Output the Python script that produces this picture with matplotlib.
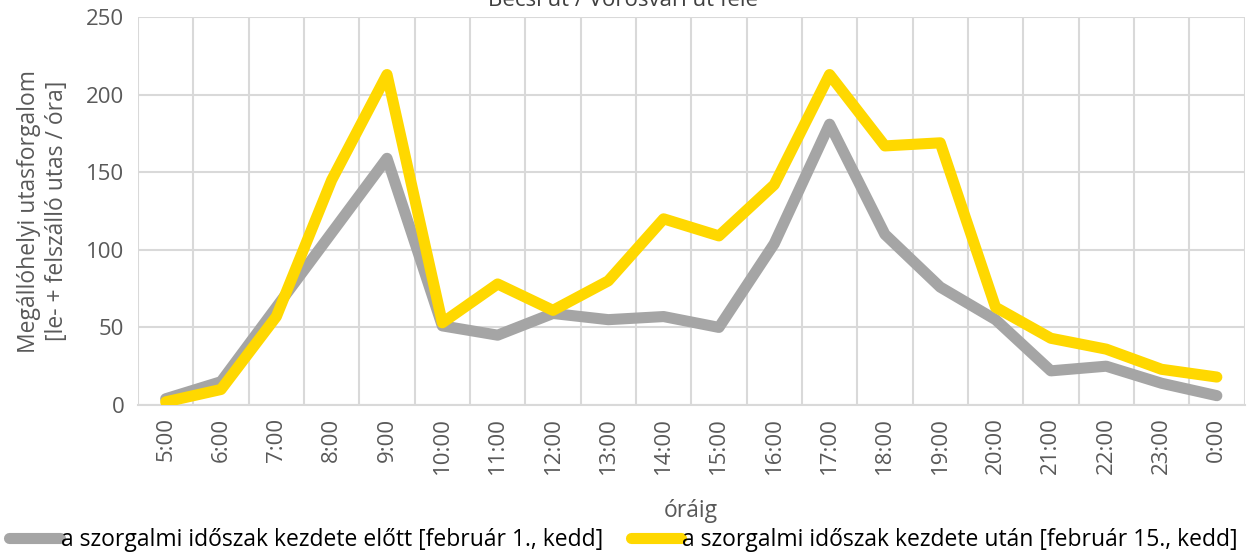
import matplotlib.pyplot as plt

plt.rcParams['font.family'] = ['Open Sans', 'DejaVu Sans']

hours = ["5:00", "6:00", "7:00", "8:00", "9:00", "10:00", "11:00", "12:00", "13:00", "14:00",
         "15:00", "16:00", "17:00", "18:00", "19:00", "20:00", "21:00", "22:00", "23:00", "0:00"]
before = [4, 15, 63, 111, 159, 51, 45, 59, 55, 57, 50, 104, 181, 110, 76, 55, 22, 25, 14, 6]
after = [2, 10, 57, 145, 213, 53, 78, 61, 80, 120, 109, 142, 213, 167, 169, 63, 43, 36, 23, 18]

label_before = "a szorgalmi időszak kezdete előtt [február 1., kedd]"
label_after = "a szorgalmi időszak kezdete után [február 15., kedd]"

GREY = "#A5A5A5"
GOLD = "#FFD800"
TXT = "#595959"

fig = plt.figure(figsize=(12.47, 5.54), dpi=100)
ax = fig.add_axes([0.1107, 0.269, 0.8873, 0.70])

x = list(range(len(hours)))
ax.plot(x, before, color=GREY, lw=8, solid_joinstyle='round', solid_capstyle='round', label=label_before, zorder=3)
ax.plot(x, after, color=GOLD, lw=8, solid_joinstyle='round', solid_capstyle='round', label=label_after, zorder=4)

ax.set_xlim(-0.5, len(hours) - 0.5)
ax.set_ylim(0, 250)
ax.set_yticks(range(0, 251, 50))
ax.set_xticks(x)
ax.set_xticklabels(hours, rotation=90)
ax.set_xticks([i - 0.5 for i in range(len(hours) + 1)], minor=True)
ax.grid(False)
ax.grid(True, which='minor', axis='x', color='#D9D9D9', lw=1.5)
ax.grid(True, which='major', axis='y', color='#D9D9D9', lw=1.5)
ax.set_axisbelow(True)
ax.tick_params(axis='both', which='both', length=0, labelsize=16, colors=TXT)
ax.tick_params(axis='y', pad=10)
ax.tick_params(axis='x', pad=9)
for s in ax.spines.values():
    s.set_visible(False)
ax.spines['bottom'].set_visible(True)
ax.spines['bottom'].set_color('#D9D9D9')
ax.spines['bottom'].set_linewidth(1.5)

ax.set_ylabel("Megállóhelyi utasforgalom\n[le- + felszálló utas / óra]", fontsize=16.5, color=TXT,
              labelpad=12, linespacing=1.25)
ax.set_xlabel("óráig", fontsize=16.5, color=TXT, labelpad=18)

fig.text(0.5, 1 - 6 / 554, "Bécsi út / Vörösvári út felé", ha='center', va='baseline', fontsize=16, color='#404040')

leg = fig.legend(loc='center', bbox_to_anchor=(0.5, 1 - 540 / 554), ncol=2, frameon=False, fontsize=16.5,
                 handlelength=2.2, handletextpad=0.05, columnspacing=1.2)
for t in leg.get_texts():
    t.set_color('black')

fig.savefig("out.png", dpi=100)
